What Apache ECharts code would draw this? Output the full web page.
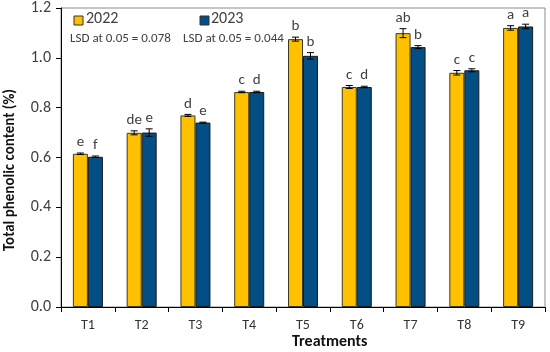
<!DOCTYPE html>
<html><head><meta charset="utf-8">
<script src="https://cdn.jsdelivr.net/npm/echarts@6/dist/echarts.min.js"></script>
<style>html,body{margin:0;padding:0;background:#fff}#c{width:550px;height:352px}</style>
</head><body><div id="c"></div>
<script>
const categories = ['T1','T2','T3','T4','T5','T6','T7','T8','T9'];
const yTicks = ['0.0','0.2','0.4','0.6','0.8','1.0','1.2'];
const values2022 = [0.615, 0.699, 0.769, 0.863, 1.075, 0.883, 1.099, 0.940, 1.120];
const values2023 = [0.603, 0.700, 0.740, 0.863, 1.008, 0.883, 1.043, 0.950, 1.126];
const err2022 = [0.003, 0.008, 0.004, 0.003, 0.008, 0.006, 0.018, 0.009, 0.009];
const err2023 = [0.003, 0.015, 0.002, 0.003, 0.013, 0.003, 0.006, 0.006, 0.009];
const letters2022 = ['e','de','d','c','b','c','ab','c','a'];
const letters2023 = ['f','e','e','d','b','d','b','c','a'];
const seriesNames = ['2022','2023'];
const lsdTexts = ['LSD at 0.05 = 0.078','LSD at 0.05 = 0.044'];

const C1 = '#FFC000', C2 = '#034E84';
const FONT = 'Calibri, Carlito, Lato, "Open Sans", "Noto Sans", sans-serif';
const chart = echarts.init(document.getElementById('c'));

function errSeries(vals, errs, letters, idx) {
  return {
    type: 'custom', z: 5,
    data: vals.map((v, i) => [i, v, errs[i]]),
    renderItem: function (params, api) {
      const i = api.value(0), v = api.value(1), e = api.value(2);
      const bw = 15;
      const off = (idx === 0 ? -bw / 2 : bw / 2);
      const c = api.coord([i, v]);
      const x = c[0] + off;
      const yT = api.coord([i, v + e])[1];
      const yB = api.coord([i, v - e])[1];
      const st = { stroke: '#000', lineWidth: 1 };
      return { type: 'group', children: [
        { type: 'line', shape: { x1: x, y1: yT, x2: x, y2: yB }, style: st },
        { type: 'line', shape: { x1: x - 3.5, y1: yT, x2: x + 3.5, y2: yT }, style: st },
        { type: 'line', shape: { x1: x - 3.5, y1: yB, x2: x + 3.5, y2: yB }, style: st },
        { type: 'text', style: { text: letters[i], x: x, y: yT - 3, textAlign: 'center', textVerticalAlign: 'bottom',
          font: '15px ' + FONT, fill: '#404040' } }
      ]};
    }
  };
}

chart.setOption({
  animation: false,
  grid: { left: 61, right: 5, top: 8, bottom: 45, show: true, borderColor: '#8c8c8c', borderWidth: 1 },
  xAxis: {
    type: 'category', data: categories,
    axisLine: { lineStyle: { color: '#000', width: 1 } },
    axisTick: { show: true, length: 5, lineStyle: { color: '#000' } },
    axisLabel: { color: '#333', fontSize: 14, fontFamily: FONT, margin: 11 }
  },
  yAxis: {
    type: 'value', min: 0, max: 1.2, interval: 0.2,
    splitLine: { show: false },
    axisLine: { show: true, lineStyle: { color: '#000', width: 1 } },
    axisTick: { show: true, length: 5, lineStyle: { color: '#000' } },
    axisLabel: { color: '#404040', fontSize: 16, fontFamily: FONT, margin: 10,
      formatter: (v) => yTicks[Math.round(v / 0.2)] }
  },
  legend: { show: false },
  series: [
    { name: seriesNames[0], type: 'bar', data: values2022, barWidth: 15, barGap: '0%',
      itemStyle: { color: C1, borderColor: '#3a3a1a', borderWidth: 1 } },
    { name: seriesNames[1], type: 'bar', data: values2023, barWidth: 15,
      itemStyle: { color: C2, borderColor: '#1a1a1a', borderWidth: 1 } },
    errSeries(values2022, err2022, letters2022, 0),
    errSeries(values2023, err2023, letters2023, 1)
  ],
  graphic: [
    { type: 'rect', shape: { x: 74, y: 16, width: 9, height: 9 }, style: { fill: C1, stroke: '#333', lineWidth: 1 } },
    { type: 'text', left: 86, top: 11, style: { text: seriesNames[0], font: '16px ' + FONT, fill: '#404040' } },
    { type: 'rect', shape: { x: 200, y: 16, width: 9, height: 9 }, style: { fill: C2, stroke: '#333', lineWidth: 1 } },
    { type: 'text', left: 211, top: 11, style: { text: seriesNames[1], font: '16px ' + FONT, fill: '#404040' } },
    { type: 'text', left: 70, top: 32, style: { text: lsdTexts[0], font: '13px ' + FONT, fill: '#404040' } },
    { type: 'text', left: 183, top: 32, style: { text: lsdTexts[1], font: '13px ' + FONT, fill: '#404040' } },
    { type: 'text', left: 292, top: 334, style: { text: 'Treatments', font: 'bold 16px ' + FONT, fill: '#111' } },
    { type: 'text', x: 10, y: 170, rotation: Math.PI / 2,
      style: { text: 'Total phenolic content (%)', font: 'bold 15px ' + FONT, fill: '#111',
        textAlign: 'center', textVerticalAlign: 'middle' } }
  ]
});
</script></body></html>
